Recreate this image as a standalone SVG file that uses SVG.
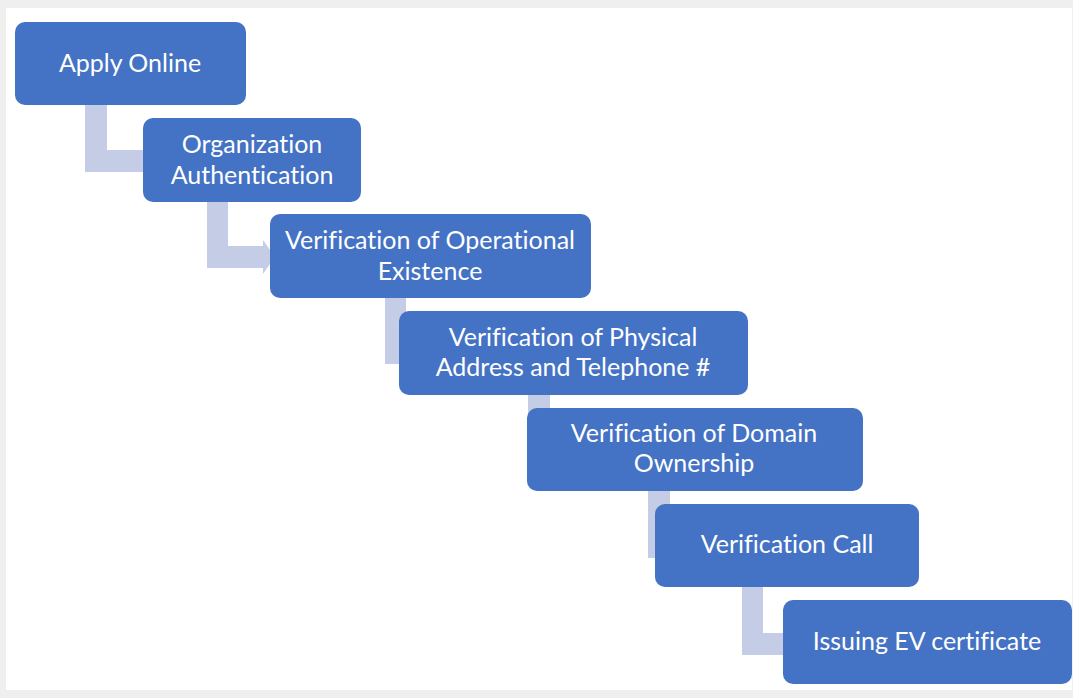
<svg xmlns="http://www.w3.org/2000/svg" width="1073" height="698" viewBox="0 0 1073 698">
<style>
.box{fill:#4472c4;}
.lbl{font-family:Lato,"Open Sans","Liberation Sans",sans-serif;font-size:25px;fill:#ffffff;text-anchor:middle;font-variant-ligatures:none;}
.conn{fill:#c5cde6;}
</style>
<rect x="0" y="0" width="1073" height="698" fill="#efefef"/>
<rect x="6" y="8" width="1066" height="682" fill="#ffffff"/>
<g id="connectors">
<path class="conn" d="M85 105 H107 V150 H150 V172 H85 Z"/>
<path class="conn" d="M207 202 H228 V246 H263 V240 L275 257 L263 274 V268 H207 Z"/>
<path class="conn" d="M385 298 H406 V342 H410 V364 H385 Z"/>
<path class="conn" d="M528 394 H550 V439 H540 V461 H528 Z"/>
<path class="conn" d="M648 491 H670 V536 H670 V558 H648 Z"/>
<path class="conn" d="M742 587 H763 V633 H790 V655 H742 Z"/>
</g>
<g id="n1"><rect class="box" x="15" y="22" width="231" height="83" rx="10"/><text class="lbl" x="130" y="72">Apply Online</text></g>
<g id="n2"><rect class="box" x="143" y="118" width="218" height="84" rx="10"/><text class="lbl" x="252" y="153">Organization</text><text class="lbl" x="252" y="184">Authentication</text></g>
<g id="n3"><rect class="box" x="270" y="214" width="321" height="84" rx="10"/><text class="lbl" x="430" y="249">Verification of Operational</text><text class="lbl" x="430" y="280">Existence</text></g>
<g id="n4"><rect class="box" x="399" y="311" width="349" height="84" rx="10"/><text class="lbl" x="573" y="346">Verification of Physical</text><text class="lbl" x="573" y="376">Address and Telephone #</text></g>
<g id="n5"><rect class="box" x="527" y="408" width="336" height="83" rx="10"/><text class="lbl" x="694" y="442">Verification of Domain</text><text class="lbl" x="694" y="472">Ownership</text></g>
<g id="n6"><rect class="box" x="655" y="504" width="264" height="83" rx="10"/><text class="lbl" x="787" y="553">Verification Call</text></g>
<g id="n7"><rect class="box" x="783" y="600" width="289" height="84" rx="10"/><text class="lbl" x="927" y="650">Issuing EV certificate</text></g>
</svg>
